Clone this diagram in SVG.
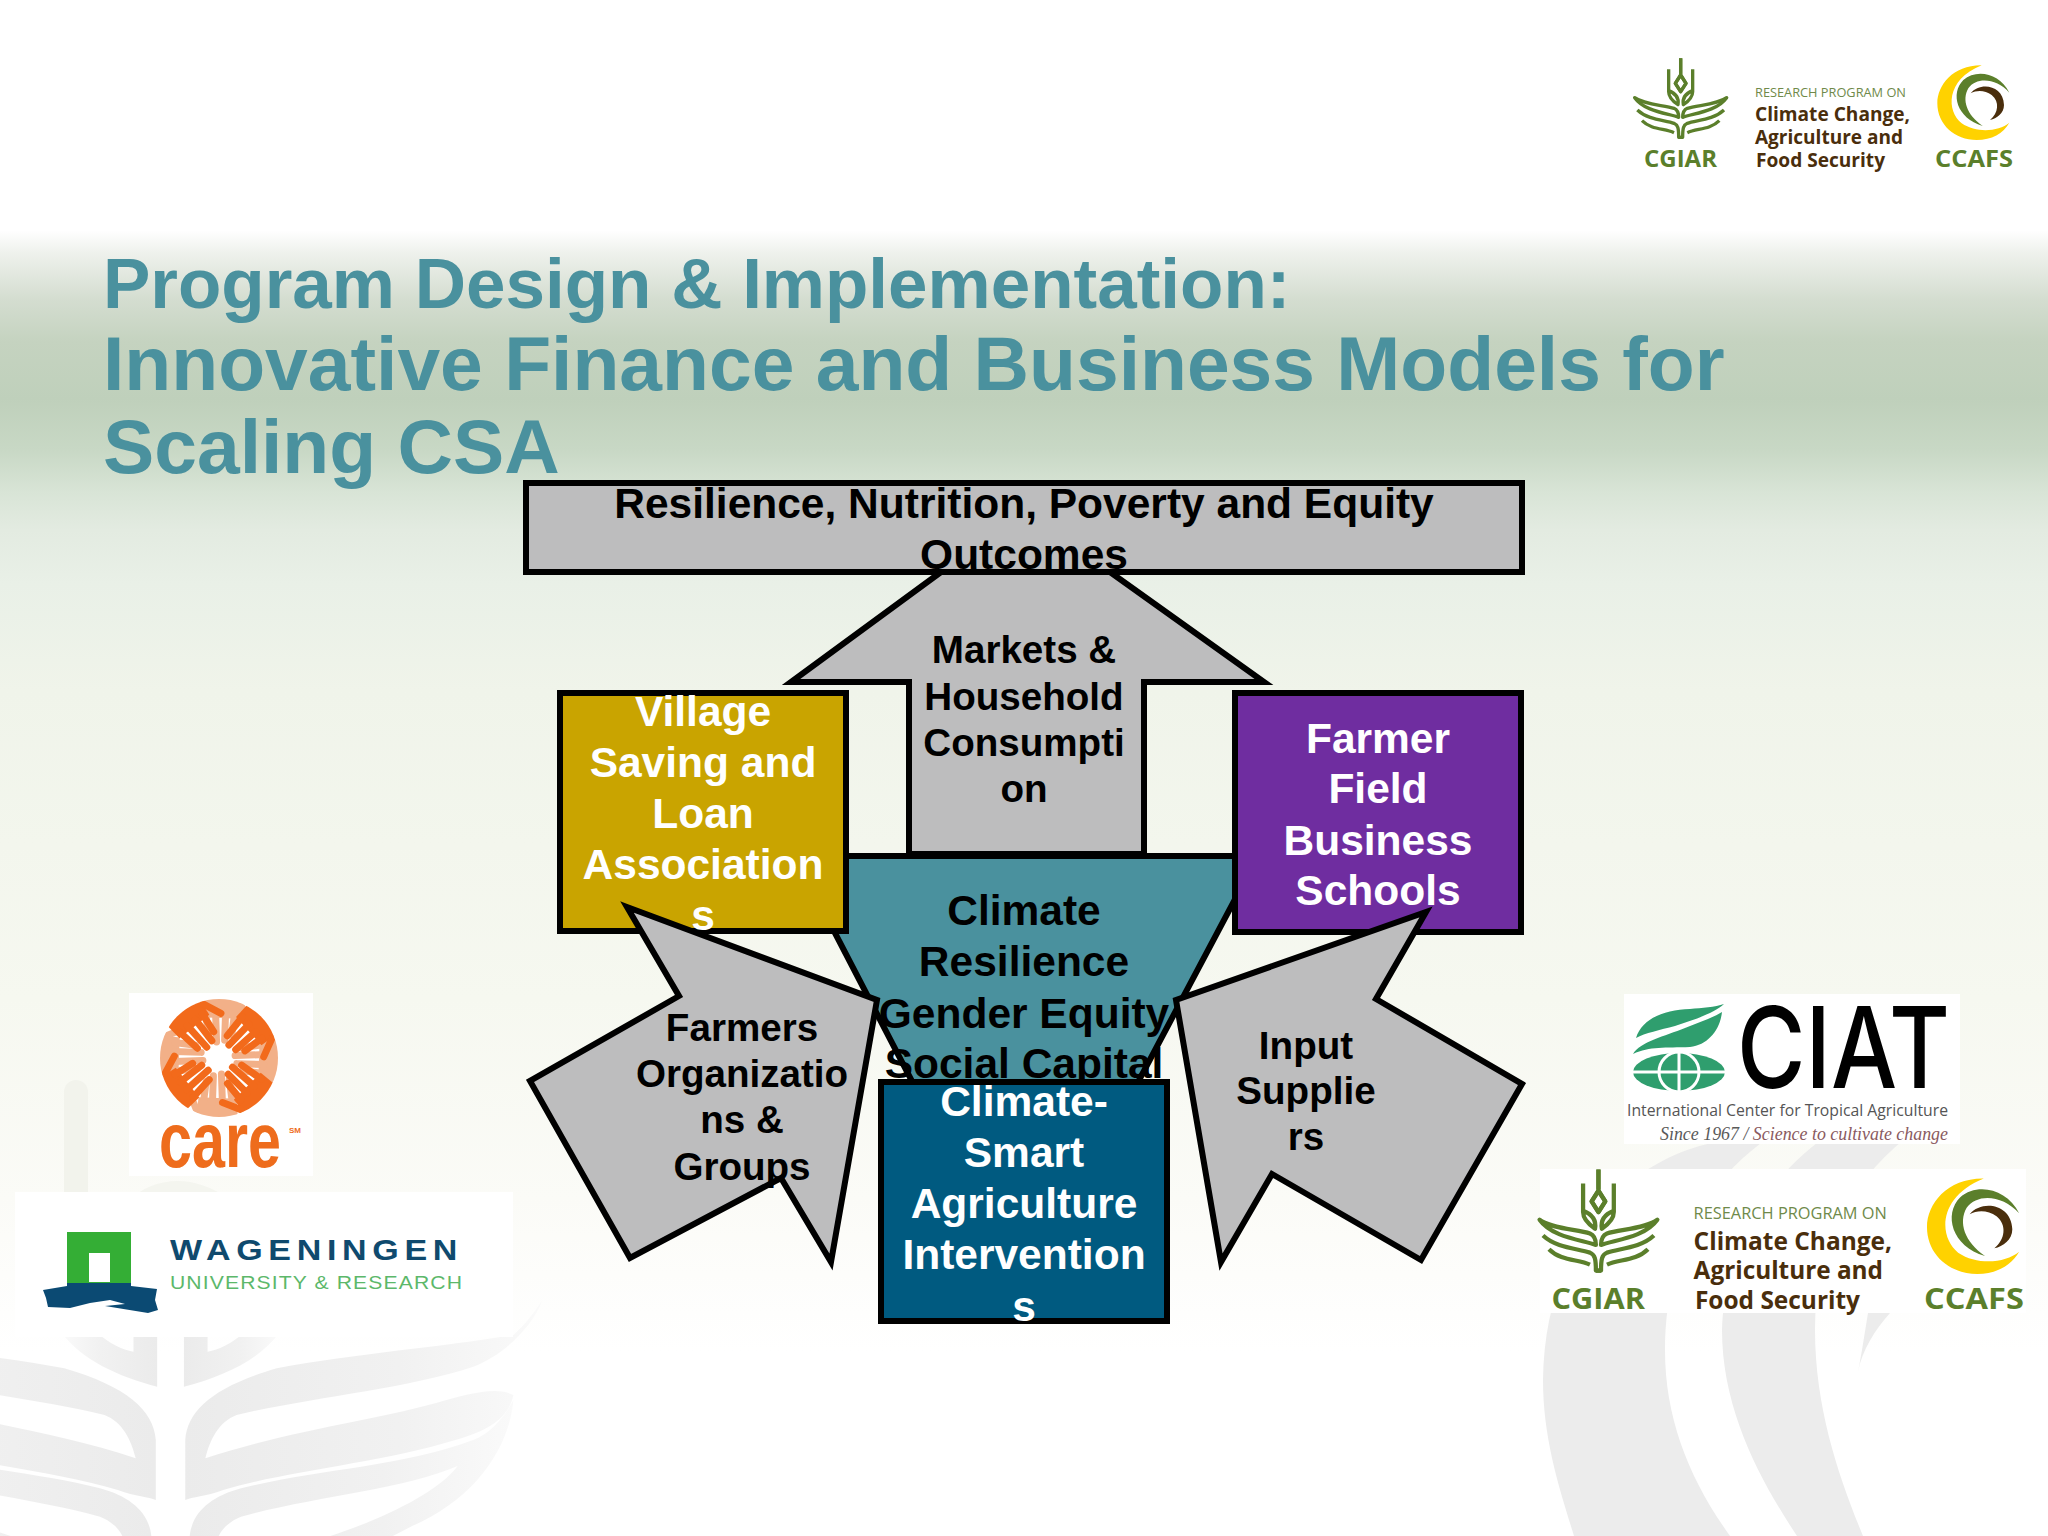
<svg xmlns="http://www.w3.org/2000/svg" xmlns:xlink="http://www.w3.org/1999/xlink" width="2048" height="1536" viewBox="0 0 2048 1536">
<style>
text{font-family:"Liberation Sans",Arial,sans-serif}
.t{font-weight:bold;font-size:42.5px;text-anchor:middle;fill:#000}
.s{font-size:38.6px}
.w{fill:#fff}
.b{stroke:#000;stroke-width:6;stroke-linejoin:miter}
.g{fill:#bdbdbe}
.title{font-weight:bold;fill:#4a919e}
.lg{font-family:"Open Sans","Noto Sans",sans-serif}
.wm{fill:url(#wmf)}
.wr{fill:#ececec}
.em{fill:none;stroke:#5b7f2b;stroke-width:10;stroke-linejoin:round}
</style>
<defs>
<linearGradient id="bg" x1="0" y1="0" x2="0" y2="1536" gradientUnits="userSpaceOnUse">
<stop offset="0" stop-color="#fff"/><stop offset=".15" stop-color="#fff"/><stop offset=".165" stop-color="#eef1ec"/><stop offset=".195" stop-color="#d4ddd0"/><stop offset=".222" stop-color="#c5d3c0"/><stop offset=".26" stop-color="#bfd0bb"/><stop offset=".293" stop-color="#c8d8c5"/><stop offset=".32" stop-color="#d8e4d6"/><stop offset=".345" stop-color="#e3ebe1"/><stop offset=".38" stop-color="#e9f0e7"/><stop offset=".45" stop-color="#f0f4ea"/><stop offset=".65" stop-color="#f6f8f0"/><stop offset=".78" stop-color="#fbfbf7"/><stop offset=".88" stop-color="#fff"/>
</linearGradient>
<linearGradient id="wmf" x1="0" y1="0" x2="1" y2="0"><stop offset="0" stop-color="#ebebeb"/><stop offset=".6" stop-color="#f1f1f1"/><stop offset="1" stop-color="#fafafa"/></linearGradient>
<clipPath id="careclip"><circle cx="0" cy="0" r="59"/></clipPath>
<g id="hand">
<path d="M-22 -70 L22 -70 L19 -40 L-19 -40Z"/>
<path d="M-15 -45 L-11 -21 M-5 -45 L-3 -16 M5 -45 L5 -18 M14 -45 L12 -24 M21 -52 L29 -34" fill="none" stroke="currentColor" stroke-width="7" stroke-linecap="round"/>
</g>
<g id="wmh">
<path d="M415 600 V420 C420 330 480 260 620 205 C800 160 1000 140 1150 105 C1180 70 1200 30 1215 0 C1190 90 1120 170 1060 200 C900 270 700 290 530 345 C490 365 470 420 460 475 C650 390 850 360 1000 300 C1060 280 1110 260 1150 285 C1140 350 1100 390 1020 420 C850 490 650 510 500 570 C460 590 430 590 415 600Z"/>
<path d="M425 708 C430 640 470 590 540 565 C700 510 900 500 1060 420 C1100 400 1130 350 1150 300 C1140 450 1060 600 920 680 L880 708 H740 C850 660 980 580 1025 498 C900 570 700 590 540 650 C520 660 500 680 490 708Z"/>
<path d="M412 100 V260 C500 230 580 180 625 100 H545 C520 130 490 150 465 155 V100Z"/>
</g>
<g id="rp">
<g transform="translate(-35,-28) scale(.33333)">
<g id="emb">
<path class="em" d="M242 85 V132 M242 135 L258 160 L242 185 L226 160Z"/>
<path class="em" d="M278 118 V185 Q278 205 250 224 Q245 195 278 182"/>
<path class="em" d="M380 203 C350 225 290 225 262 235 C250 240 248 250 248 262 C280 250 350 245 380 203Z"/>
<path class="em" d="M372 240 C340 270 290 270 262 280 C250 285 248 295 248 322 H236"/>
<path class="em" d="M358 272 C330 300 290 295 262 308" stroke-width="9"/>
</g>
<use xlink:href="#emb" href="#emb" transform="translate(484,0) scale(-1,1)"/>
<path fill="#ffd200" d="M1145 106 C1060 105 1012 165 1012 220 C1012 285 1065 330 1130 330 C1175 330 1210 310 1228 278 C1195 305 1130 310 1085 280 C1040 245 1035 150 1145 106Z"/>
<path fill="#5b7f2b" d="M1228 188 C1200 130 1130 115 1090 150 C1050 190 1070 265 1148 288 C1100 255 1085 210 1105 175 C1130 140 1190 145 1228 188Z"/>
<path fill="#4a2e0c" d="M1112 190 C1140 155 1210 165 1212 225 C1212 250 1190 265 1170 270 C1195 250 1200 215 1175 195 C1155 180 1130 180 1112 190Z"/>
</g>
<text class="lg" x="9" y="109" font-size="23" font-weight="700" fill="#5b7f2b" textLength="73" lengthAdjust="spacingAndGlyphs">CGIAR</text>
<text class="lg" x="300" y="109" font-size="23" font-weight="700" fill="#5b7f2b" textLength="78" lengthAdjust="spacingAndGlyphs">CCAFS</text>
<text class="lg" x="120" y="39" font-size="12.5" font-weight="500" fill="#6f8a4a" textLength="151" lengthAdjust="spacingAndGlyphs">RESEARCH PROGRAM ON</text>
<text class="lg" x="120" y="63" font-size="20" font-weight="700" fill="#4a2e0c" textLength="155" lengthAdjust="spacingAndGlyphs">Climate Change,</text>
<text class="lg" x="120" y="86" font-size="20" font-weight="700" fill="#4a2e0c" textLength="148" lengthAdjust="spacingAndGlyphs">Agriculture and</text>
<text class="lg" x="121" y="109" font-size="20" font-weight="700" fill="#4a2e0c" textLength="129" lengthAdjust="spacingAndGlyphs">Food Security</text>
</g>
</defs>

<rect id="background" width="2048" height="1536" fill="url(#bg)"/>
<g id="watermark">
<g transform="translate(0,1300) scale(.44643,.33333)"><use xlink:href="#wmh" href="#wmh" class="wm"/><use xlink:href="#wmh" href="#wmh" class="wm" transform="translate(764,0) scale(-1,1)"/></g>
<rect x="64" y="1080" width="24" height="130" rx="12" fill="#f2f3ec"/>
<path fill="#f4f5ef" d="M130 1200 C150 1180 190 1170 230 1200Z"/>
<path class="wr" d="M1730 1140 C1640 1150 1545 1230 1543 1380 C1543 1440 1560 1490 1574 1536 H1730 C1690 1480 1665 1420 1665 1350 C1665 1260 1700 1180 1780 1130Z"/>
<path class="wr" d="M1900 1100 C1800 1130 1725 1220 1722 1330 C1722 1410 1760 1480 1797 1536 H1863 C1840 1480 1815 1410 1815 1330 C1815 1230 1860 1160 1960 1100Z"/>
<path class="wr" d="M1890 1313 C1875 1330 1862 1350 1858 1372 L1862 1350 L1868 1313Z"/>
</g>

<g id="title" class="title">
<text x="103" y="308" font-size="71">Program Design &amp; Implementation:</text>
<text x="103" y="390" font-size="76.8">Innovative Finance and Business Models for</text>
<text x="103" y="473" font-size="76.8">Scaling CSA</text>
</g>

<g id="logo-top"><rect x="1620" y="40" width="415" height="145" fill="#fff"/><use xlink:href="#rp" href="#rp" transform="translate(1635,58)"/></g>

<g id="logo-care">
<rect x="129" y="993" width="184" height="183" fill="#fff"/>
<g transform="translate(219,1058)" clip-path="url(#careclip)" color="#f2b088" fill="#f2b088">
<use xlink:href="#hand" href="#hand" transform="rotate(2)"/><use xlink:href="#hand" href="#hand" transform="rotate(92)"/><use xlink:href="#hand" href="#hand" transform="rotate(182)"/><use xlink:href="#hand" href="#hand" transform="rotate(272)"/>
<g color="#f26a1b" fill="#f26a1b"><use xlink:href="#hand" href="#hand" transform="rotate(-38)"/><use xlink:href="#hand" href="#hand" transform="rotate(48)"/><use xlink:href="#hand" href="#hand" transform="rotate(135)"/><use xlink:href="#hand" href="#hand" transform="rotate(-128)"/></g>
</g>
<text x="159" y="1167" font-size="78" font-weight="bold" fill="#ee6c1c" textLength="122" lengthAdjust="spacingAndGlyphs">care</text>
<text x="289" y="1133" font-size="8" font-weight="bold" fill="#ee6c1c">SM</text>
</g>

<g id="logo-wageningen">
<rect x="15" y="1192" width="498" height="145" fill="#fff"/>
<path fill="#34ae35" fill-rule="evenodd" d="M67 1232 H131 V1288 H67Z M89 1253 V1282 H110 V1253Z"/>
<path fill="#0b4a73" d="M43 1290 L67 1286 V1283 H131 V1286 L157 1289 L155 1300 L158 1310 L148 1313 L105 1306 L125 1304 L110 1300 L90 1303 L70 1308 L48 1307 L46 1298Z"/>
<text x="170" y="1260" font-size="30" letter-spacing="5" fill="#0f4a6e" textLength="293" font-weight="bold" lengthAdjust="spacingAndGlyphs">WAGENINGEN</text>
<text x="170" y="1289" font-size="19" letter-spacing="1" fill="#5cb86a" textLength="293" lengthAdjust="spacingAndGlyphs">UNIVERSITY &amp; RESEARCH</text>
</g>

<g id="logo-ciat">
<rect x="1624" y="994" width="336" height="150" fill="#fff"/>
<path fill="#2f9e6e" d="M1636 1038 C1642 1018 1665 1010 1690 1009 C1702 1008 1715 1007 1724 1004 C1715 1012 1700 1018 1675 1026 C1660 1030 1645 1033 1636 1038Z"/>
<path fill="#2f9e6e" d="M1633 1054 C1640 1042 1665 1036 1685 1028 C1700 1022 1712 1018 1722 1012 C1720 1030 1708 1045 1690 1047 C1665 1048 1650 1046 1633 1054Z"/>
<ellipse cx="1679" cy="1072" rx="46" ry="19" fill="#2f9e6e"/>
<circle cx="1679" cy="1072" r="20" fill="#2f9e6e" stroke="#fff" stroke-width="3"/>
<path d="M1632 1072 H1726 M1679 1052 V1092" stroke="#fff" stroke-width="3"/>
<text x="1737" y="1088" font-size="113" font-weight="500" fill="#000" textLength="213" lengthAdjust="spacingAndGlyphs" style="font-family:Inter,'Liberation Sans',sans-serif">CIAT</text>
<text x="1627" y="1116" font-size="17" fill="#555" textLength="321" class="lg" lengthAdjust="spacingAndGlyphs">International Center for Tropical Agriculture</text>
<text x="1660" y="1140" font-size="18" font-style="italic" fill="#5a5a5a" textLength="288" lengthAdjust="spacingAndGlyphs" style="font-family:'Liberation Serif',serif">Since 1967 / <tspan fill="#8a5a60">Science to cultivate change</tspan></text>
</g>

<g id="logo-bottom"><rect x="1540" y="1169" width="486" height="144" fill="#fff"/><use xlink:href="#rp" href="#rp" transform="translate(1540,1169) scale(1.28)"/></g>

<g id="node-climate-resilience">
<polygon class="b" fill="#4a919e" points="795,856 1258,856 1024,1297"/>
<text class="t" x="1024" y="925">Climate</text><text class="t" x="1024" y="976">Resilience</text><text class="t" x="1024" y="1028">Gender Equity</text><text class="t" x="1024" y="1078">Social Capital</text>
</g>
<g id="node-markets">
<polygon class="b g" points="941,572 1110,572 1264,682 1144,682 1144,854 909,854 909,682 791,682"/>
<text class="t s" x="1024" y="663">Markets &amp;</text><text class="t s" x="1024" y="710">Household</text><text class="t s" x="1024" y="756">Consumpti</text><text class="t s" x="1024" y="802">on</text>
</g>
<g id="node-outcomes">
<rect class="b g" x="526" y="483" width="996" height="89"/>
<text class="t" x="1024" y="518">Resilience, Nutrition, Poverty and Equity</text><text class="t" x="1024" y="569">Outcomes</text>
</g>
<g id="node-vsla">
<rect class="b" fill="#c9a400" x="560" y="693" width="286" height="238"/>
<text class="t w" x="703" y="726">Village</text><text class="t w" x="703" y="777">Saving and</text><text class="t w" x="703" y="828">Loan</text><text class="t w" x="703" y="879">Association</text><text class="t w" x="703" y="930">s</text>
</g>
<g id="node-ffbs">
<rect class="b" fill="#6f2da0" x="1235" y="693" width="286" height="239"/>
<text class="t w" x="1378" y="753">Farmer</text><text class="t w" x="1378" y="803">Field</text><text class="t w" x="1378" y="855">Business</text><text class="t w" x="1378" y="905">Schools</text>
</g>
<g id="node-csa">
<rect class="b" fill="#005a80" x="881" y="1082" width="286" height="239"/>
<text class="t w" x="1024" y="1116">Climate-</text><text class="t w" x="1024" y="1167">Smart</text><text class="t w" x="1024" y="1218">Agriculture</text><text class="t w" x="1024" y="1269">Intervention</text><text class="t w" x="1024" y="1321">s</text>
</g>
<g id="node-farmers-org">
<polygon class="b g" points="627,907 877,1000 831,1262 781,1178 630,1258 530,1081 679,996"/>
<text class="t s" x="742" y="1041">Farmers</text><text class="t s" x="742" y="1087">Organizatio</text><text class="t s" x="742" y="1133">ns &amp;</text><text class="t s" x="742" y="1180">Groups</text>
</g>
<g id="node-input">
<polygon class="b g" points="1426,912 1376,999 1522,1084 1421,1260 1272,1174 1221,1262 1176,1000"/>
<text class="t s" x="1306" y="1059">Input</text><text class="t s" x="1306" y="1104">Supplie</text><text class="t s" x="1306" y="1150">rs</text>
</g>
</svg>
